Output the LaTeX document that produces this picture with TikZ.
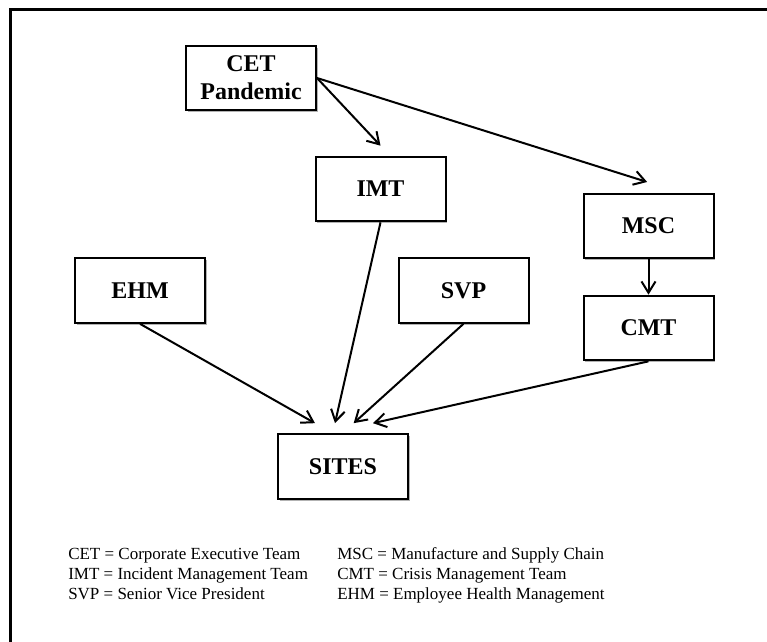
\documentclass[tikz,border=0pt]{standalone}
\usepackage{fontspec}
\setmainfont{Liberation Serif}
\usetikzlibrary{arrows.meta,shadows}

\begin{document}
\begin{tikzpicture}[x=0.75pt,y=-0.75pt,
  team/.style={draw=black, line width=1.5pt, fill=white,
    minimum width=97.5pt, minimum height=48.5pt, inner sep=2pt,
    align=center, font=\fontsize{18}{21}\selectfont\bfseries,
    drop shadow={shadow xshift=1.4pt, shadow yshift=-1.4pt, fill=black, opacity=0.3}},
  link/.style={line width=1.5pt, -{Straight Barb[length=8.5pt,width=10.5pt,line width=1.5pt]}},
  legend/.style={anchor=base west, inner sep=0pt, align=left,
    font=\fontsize{12.75}{15}\selectfont}]

  \useasboundingbox (0,0) rectangle (767,642);

  % outer frame (only its top and left sides fall inside the page)
  \draw[line width=2.25pt] (10.5,642) -- (10.5,9.5) -- (767,9.5);

  % teams
  \node[team] (cet)   at (251,78)    {CET\\Pandemic};
  \node[team] (imt)   at (380.5,189) {IMT};
  \node[team] (msc)   at (648.5,226) {MSC};
  \node[team] (cmt)   at (648.5,328) {CMT};
  \node[team] (svp)   at (463.5,290.5) {SVP};
  \node[team] (ehm)   at (140,290.5) {EHM};
  \node[team] (sites) at (343,466.5) {SITES};

  % arrow end points just above the receiving boxes
  \coordinate (imtin) at ([yshift=7.5pt]imt.north);
  \coordinate (mscin) at ([xshift=-1pt,yshift=8pt]msc.north);
  \coordinate (s1) at ([xshift=-21pt,yshift=7.5pt]sites.north);
  \coordinate (s2) at ([xshift=-6pt,yshift=7.5pt]sites.north);
  \coordinate (s3) at ([xshift=8pt,yshift=7.5pt]sites.north);
  \coordinate (s4) at ([xshift=22.5pt,yshift=7.5pt]sites.north);

  % connectors
  \draw[link] (cet.east) -- (imtin);
  \draw[link] (cet.east) -- (mscin);
  \draw[link] (msc.south) -- (cmt.north);
  \draw[link] (ehm.south) -- (s1);
  \draw[link] (imt.south) -- (s2);
  \draw[link] (svp.south) -- (s3);
  \draw[link] (cmt.south) -- (s4);

  % abbreviations (base anchor sits on the last line)
  \node[legend] (keyl) at (68,599)
    {CET = Corporate Executive Team\\IMT = Incident Management Team\\SVP = Senior Vice President};
  \node[legend] (keyr) at (337,599)
    {MSC = Manufacture and Supply Chain\\CMT = Crisis Management Team\\EHM = Employee Health Management};
\end{tikzpicture}
\end{document}
